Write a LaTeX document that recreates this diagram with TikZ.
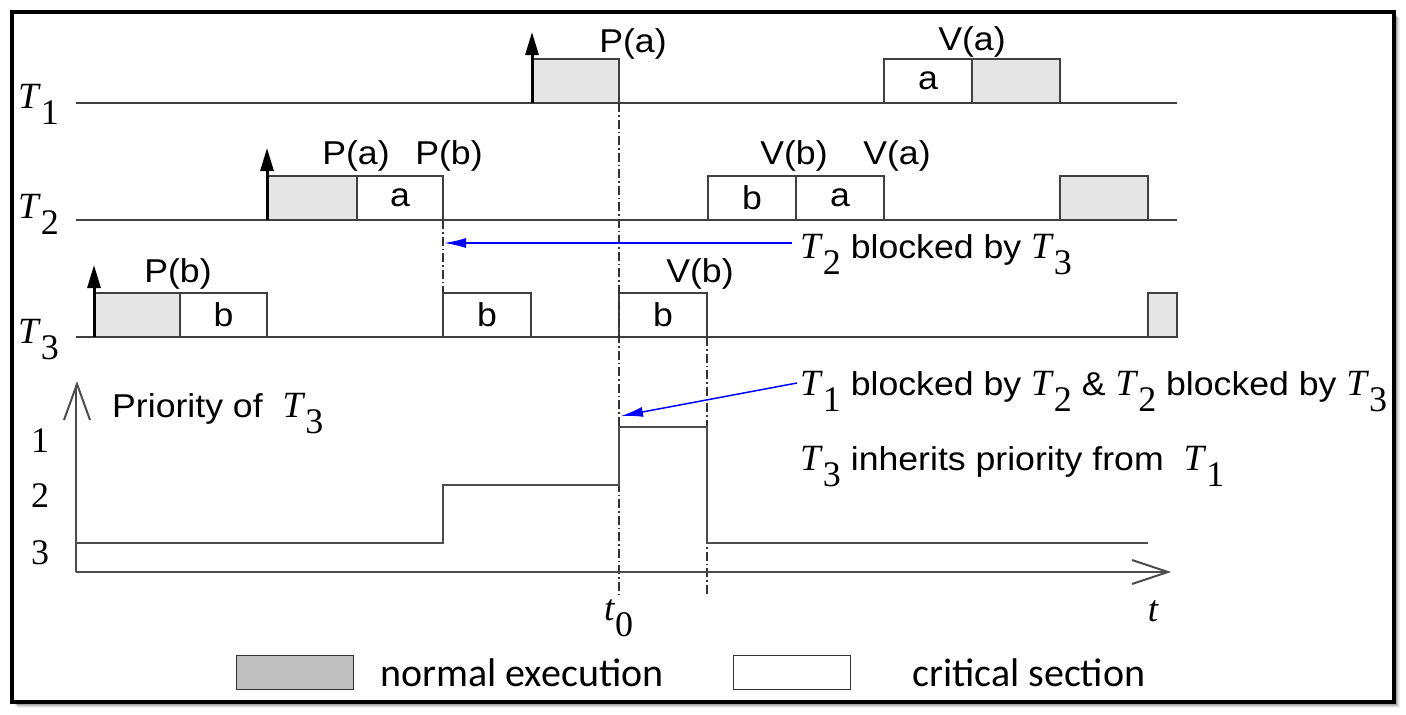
\documentclass[tikz,border=0pt]{standalone}
\usepackage{fontspec}
\usetikzlibrary{arrows.meta}
\newfontfamily\sanf{Liberation Sans}[FakeStretch=1.08]
\newfontfamily\serf{Liberation Serif}
\newfontfamily\calf{Carlito}
\newcommand{\Tk}[1]{{\serf\fontsize{37}{40}\selectfont\itshape T\/}\raisebox{-16pt}{\serf\fontsize{36}{40}\selectfont #1}}
\newcommand{\sanstxt}{\sanf\fontsize{33}{36}\selectfont}
\begin{document}
\begin{tikzpicture}[x=1pt,y=-1pt,
  base/.style={draw=black!75, line width=1.5pt},
  gbox/.style={draw=black!75, line width=1.3pt, fill=black!10, inner sep=0pt, outer sep=0pt, anchor=south west, minimum height=44pt},
  wbox/.style={gbox, fill=white, font=\sanstxt},
  lab/.style={font=\sanstxt, inner sep=0pt, anchor=base},
  txt/.style={font=\sanstxt, inner sep=0pt, anchor=base west},
  arrival/.style={line width=3pt, -{Triangle[length=23pt,width=13pt]}},
  ddot/.style={black!80, line width=1.2pt, dash pattern=on 9pt off 3pt on 1.5pt off 3pt},
  bluearr/.style={blue, line width=1.5pt, -{Latex[length=22pt,width=10pt]}},
  axis/.style={draw=black!70, line width=2pt},
  prio/.style={draw=black!70, line width=2pt},
  lvl/.style={font=\serf\fontsize{36}{38}\selectfont, inner sep=0pt},
  legbox/.style={draw=black!80, line width=1.2pt, minimum width=117pt, minimum height=34pt, anchor=north west, inner sep=0pt},
  legtxt/.style={font=\calf\fontsize{40}{44}\selectfont, inner sep=0pt, anchor=base west}]
\useasboundingbox (0,0) rectangle (1406,715);
% frame with shadow
\foreach \i/\o in {6/0.06,5/0.08,4/0.12,3/0.15,2/0.18}
  \fill[black,opacity=\o] (12+\i,12+\i) rectangle (1394+\i,702+\i);
\filldraw[fill=white, draw=black, line width=4pt] (12,12) rectangle (1394,702);

% task baselines
\draw[base] (76,103) -- (1177,103);
\draw[base] (76,220) -- (1177,220);
\draw[base] (76,337) -- (1177,337);

% row labels
\node[anchor=base west, inner sep=0pt] (L1) at (18,108) {\Tk{1}};
\node[anchor=base west, inner sep=0pt] (L2) at (18,218) {\Tk{2}};
\node[anchor=base west, inner sep=0pt] (L3) at (18,343) {\Tk{3}};

% T1 boxes
\node[gbox, minimum width=87pt] (a1) at (532,103) {};
\node[wbox, minimum width=88pt] (a2) at (884,103) {a};
\node[gbox, minimum width=88pt] (a3) at (972,103) {};
% T2 boxes
\node[gbox, minimum width=90pt] (b1) at (267,220) {};
\node[wbox, minimum width=86pt] (b2) at (357,220) {a};
\node[wbox, minimum width=88pt] (b3) at (708,220) {b};
\node[wbox, minimum width=88pt] (b4) at (796,220) {a};
\node[gbox, minimum width=88pt] (b5) at (1060,220) {};
% T3 boxes
\node[gbox, minimum width=86pt] (c1) at (94,337) {};
\node[wbox, minimum width=87pt] (c2) at (180,337) {b};
\node[wbox, minimum width=88pt] (c3) at (443,337) {b};
\node[wbox, minimum width=88pt] (c4) at (619,337) {b};
\node[gbox, minimum width=29pt] (c5) at (1148,337) {};

% arrival arrows
\draw[arrival] (a1.south west) -- ++(0,-71);
\draw[arrival] (b1.south west) -- ++(0,-72);
\draw[arrival] (c1.south west) -- ++(0,-72);

% P/V labels
\node[lab] (pa1) at (633,52) {P(a)};
\node[lab] (va1) at (972,50) {V(a)};
\node[lab] (pa2) at (356,164) {P(a)};
\node[lab] (pb2) at (449,164) {P(b)};
\node[lab] (vb2) at (794,164) {V(b)};
\node[lab] (va2) at (897,164) {V(a)};
\node[lab] (pb3) at (178,282) {P(b)};
\node[lab] (vb3) at (700,282) {V(b)};

% dash-dotted time markers
\coordinate (e1) at (619,595);
\coordinate (e2) at (707,595);
\draw[ddot] (b2.south east) -- (c3.north west);
\draw[ddot] (a1.south east) -- (e1);
\draw[ddot] (c4.south east) -- (e2);

% blocked annotations
\node[txt] (blk2) at (800,258) {\Tk{2} blocked by \Tk{3}};
\coordinate (s1) at (792,243);
\coordinate (e3) at (444,243);
\draw[bluearr] (s1) -- (e3);
\node[txt] (blk1) at (800,395) {\Tk{1} blocked by \Tk{2} \& \Tk{2} blocked by \Tk{3}};
\coordinate (s2) at (797,383);
\coordinate (e4) at (621,416);
\draw[bluearr] (s2) -- (e4);
\node[txt] (inh) at (800,470) {\Tk{3} inherits priority from \ \Tk{1}};

% priority plot
\coordinate (o) at (76,572);
\coordinate (ytop) at (76,385);
\coordinate (xend) at (1166,572);
\draw[axis] (o) -- (ytop);
\draw[axis] (64,420) -- (77,384) -- (90,420);
\draw[axis] (o) -- (xend);
\draw[axis] (1132,560) -- (1168,572) -- (1132,584);
\draw[prio] (76,543) -- (443,543) -- (443,485) -- (619,485) -- (619,427) -- (707,427) -- (707,543) -- (1148,543);
\node[txt] (prl) at (112,417) {Priority of \ \Tk{3}};
\node[lvl] (l1) at (40,441) {1};
\node[lvl] (l2) at (40,496) {2};
\node[lvl] (l3) at (40,553) {3};
\node[anchor=base west, inner sep=0pt] (t0) at (604,620) {{\serf\fontsize{37}{40}\selectfont\itshape t\/}\raisebox{-16pt}{\serf\fontsize{36}{40}\selectfont 0}};
\node[inner sep=0pt, font=\serf\fontsize{37}{40}\selectfont\itshape] (tl) at (1153,611) {t};

% legend
\node[legbox, fill=black!25] (lg1) at (236,655) {};
\node[legtxt] (lt1) at (380,686) {normal execution};
\node[legbox, fill=white] (lg2) at (733,655) {};
\node[legtxt] (lt2) at (912,686) {critical section};
\end{tikzpicture}
\end{document}
